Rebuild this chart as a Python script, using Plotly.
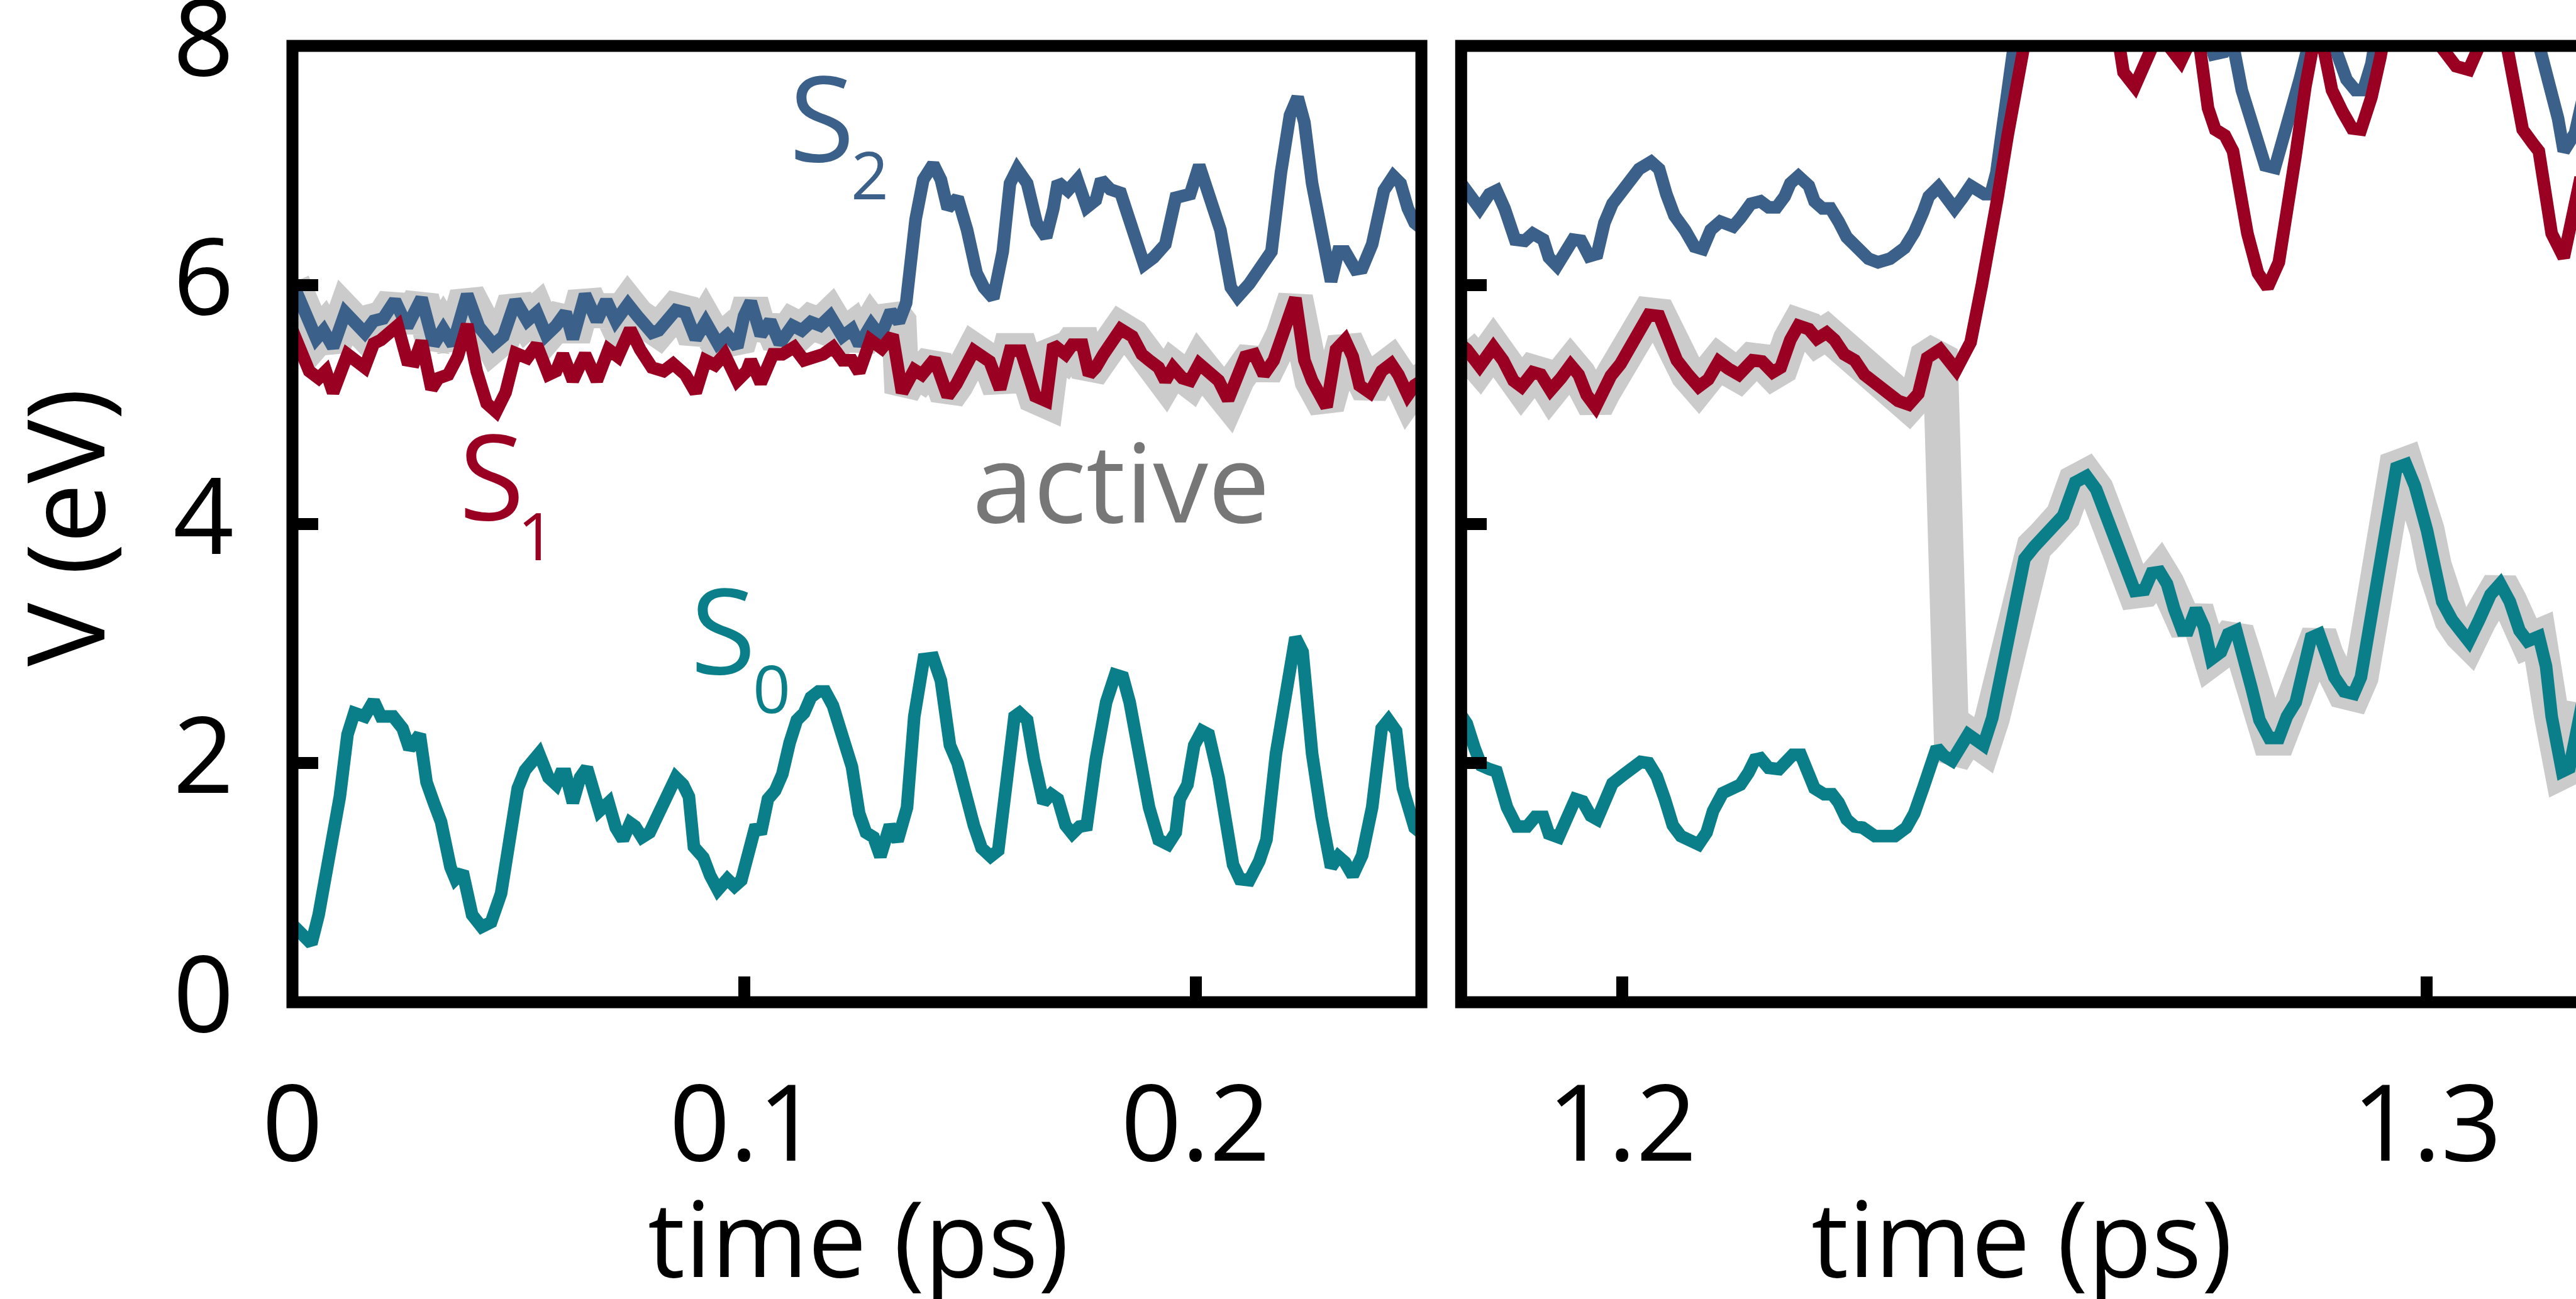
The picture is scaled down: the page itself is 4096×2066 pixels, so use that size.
import plotly.graph_objects as go

# ---------------- data (time in ps, energy in eV) ----------------
# left window
t_s2_left = [0.0000,0.0053,0.0069,0.0090,0.0117,0.0160,0.0180,0.0201,0.0227,0.0254,0.0286,0.0313,0.0334,0.0355,
             0.0387,0.0413,0.0445,0.0467,0.0494,0.0520,0.0541,0.0562,0.0584,0.0605,0.0621,0.0648,0.0674,0.0695,
             0.0716,0.0743,0.0764,0.0796,0.0811,0.0849,0.0870,0.0893,0.0915,0.0942,0.0963,0.0985,0.1000,0.1015,
             0.1037,0.1058,0.1079,0.1107,0.1128,0.1148,0.1169,0.1191,0.1218,0.1239,0.1255,0.1282,0.1302,0.1325,
             0.1343,0.1359,0.1380,0.1397,0.1419,0.1436,0.1451,0.1473,0.1494,0.1515,0.1531,0.1552,0.1573,0.1589,
             0.1605,0.1627,0.1648,0.1669,0.1685,0.1695,0.1717,0.1738,0.1759,0.1779,0.1791,0.1811,0.1834,0.1854,
             0.1886,0.1907,0.1933,0.1956,0.1988,0.2008,0.2025,0.2055,0.2078,0.2093,0.2119,0.2151,0.2168,0.2189,
             0.2209,0.2226,0.2241,0.2258,0.2279,0.2300,0.2316,0.2331,0.2354,0.2369,0.2391,0.2417,0.2438,0.2454,
             0.2470,0.2485,0.2508]
v_s2_left = [6.02,5.55,5.62,5.48,5.77,5.60,5.70,5.72,5.87,5.65,5.89,5.50,5.63,5.50,
             5.92,5.65,5.50,5.57,5.87,5.70,5.77,5.58,5.66,5.77,5.55,5.92,5.70,5.87,
             5.70,5.84,5.74,5.60,5.62,5.79,5.77,5.55,5.69,5.51,5.58,5.48,5.74,5.86,
             5.58,5.70,5.51,5.66,5.62,5.69,5.66,5.74,5.57,5.63,5.50,5.67,5.57,5.78,
             5.69,5.85,6.55,6.88,7.01,6.88,6.64,6.73,6.46,6.10,5.98,5.89,6.28,6.85,
             6.97,6.85,6.52,6.40,6.64,6.86,6.79,6.88,6.65,6.71,6.88,6.80,6.77,6.55,
             6.17,6.23,6.34,6.73,6.76,7.00,6.79,6.46,5.98,5.90,6.01,6.16,6.28,6.94,
             7.42,7.57,7.36,6.85,6.43,6.03,6.28,6.28,6.13,6.14,6.34,6.79,6.91,6.85,
             6.64,6.52,6.45]

t_s1_left = [0.0000,0.0037,0.0058,0.0074,0.0090,0.0111,0.0122,0.0160,0.0180,0.0196,0.0212,0.0233,0.0254,0.0270,
             0.0286,0.0308,0.0323,0.0345,0.0366,0.0387,0.0408,0.0430,0.0451,0.0472,0.0494,0.0520,0.0541,0.0567,
             0.0584,0.0599,0.0621,0.0648,0.0674,0.0700,0.0721,0.0748,0.0770,0.0796,0.0822,0.0843,0.0870,0.0893,
             0.0915,0.0936,0.0957,0.0985,0.1006,0.1015,0.1037,0.1064,0.1085,0.1111,0.1133,0.1154,0.1175,0.1197,
             0.1218,0.1239,0.1255,0.1280,0.1305,0.1329,0.1350,0.1377,0.1394,0.1422,0.1451,0.1470,0.1509,0.1544,
             0.1567,0.1589,0.1613,0.1645,0.1669,0.1685,0.1712,0.1727,0.1749,0.1764,0.1779,0.1796,0.1811,0.1834,
             0.1860,0.1881,0.1897,0.1918,0.1933,0.1950,0.1971,0.1988,0.2008,0.2029,0.2051,0.2072,0.2093,0.2110,
             0.2130,0.2151,0.2173,0.2194,0.2221,0.2241,0.2258,0.2290,0.2311,0.2331,0.2348,0.2363,0.2386,0.2412,
             0.2433,0.2449,0.2470,0.2485,0.2522]
v_s1_left = [5.62,5.28,5.22,5.28,5.10,5.28,5.42,5.31,5.51,5.54,5.59,5.66,5.37,5.36,
             5.53,5.13,5.22,5.25,5.40,5.67,5.28,5.01,4.94,5.10,5.43,5.39,5.50,5.25,
             5.28,5.42,5.20,5.42,5.20,5.46,5.40,5.63,5.46,5.31,5.28,5.34,5.25,5.10,
             5.37,5.33,5.42,5.20,5.28,5.37,5.18,5.42,5.42,5.48,5.37,5.40,5.42,5.48,
             5.37,5.37,5.27,5.54,5.47,5.58,5.10,5.29,5.25,5.38,5.07,5.17,5.45,5.36,
             5.13,5.45,5.45,5.07,5.03,5.50,5.42,5.50,5.50,5.25,5.31,5.42,5.50,5.63,
             5.57,5.42,5.37,5.31,5.20,5.31,5.22,5.20,5.34,5.27,5.20,5.04,5.22,5.40,
             5.42,5.25,5.37,5.58,5.89,5.37,5.20,4.98,5.46,5.54,5.40,5.16,5.10,5.28,
             5.34,5.25,5.08,5.16,5.25]

t_s0_left = [0.0000,0.0042,0.0058,0.0074,0.0090,0.0105,0.0122,0.0137,0.0160,0.0180,0.0196,0.0223,0.0244,0.0259,
             0.0282,0.0297,0.0313,0.0329,0.0350,0.0361,0.0377,0.0398,0.0419,0.0440,0.0462,0.0483,0.0499,0.0515,
             0.0530,0.0546,0.0567,0.0584,0.0594,0.0605,0.0621,0.0637,0.0652,0.0669,0.0680,0.0700,0.0716,0.0732,
             0.0748,0.0759,0.0774,0.0791,0.0811,0.0834,0.0849,0.0865,0.0878,0.0889,0.0910,0.0925,0.0942,0.0963,
             0.0979,0.0994,0.1011,0.1026,0.1037,0.1053,0.1069,0.1085,0.1101,0.1117,0.1133,0.1148,0.1165,0.1180,
             0.1197,0.1218,0.1239,0.1255,0.1270,0.1287,0.1302,0.1323,0.1340,0.1361,0.1377,0.1398,0.1419,0.1436,
             0.1456,0.1473,0.1488,0.1509,0.1526,0.1546,0.1563,0.1578,0.1599,0.1610,0.1627,0.1642,0.1663,0.1680,
             0.1695,0.1712,0.1727,0.1743,0.1759,0.1779,0.1802,0.1822,0.1839,0.1854,0.1875,0.1897,0.1918,0.1939,
             0.1956,0.1965,0.1982,0.1997,0.2014,0.2029,0.2051,0.2067,0.2083,0.2098,0.2119,0.2141,0.2157,0.2178,
             0.2200,0.2221,0.2237,0.2258,0.2279,0.2300,0.2316,0.2331,0.2348,0.2369,0.2391,0.2412,0.2427,0.2444,
             0.2459,0.2470,0.2485,0.2505]
v_s0_left = [0.65,0.49,0.73,1.06,1.27,1.72,2.24,2.42,2.39,2.52,2.39,2.39,2.29,2.12,
             2.24,1.84,1.67,1.51,1.13,1.03,1.09,0.73,0.63,0.67,0.91,1.39,1.79,1.94,
             2.03,2.08,1.88,1.82,1.91,1.91,1.67,1.88,1.96,1.72,1.60,1.67,1.46,1.36,
             1.50,1.47,1.38,1.42,1.58,1.79,1.88,1.82,1.72,1.30,1.21,1.06,0.94,1.03,
             0.97,1.02,1.33,1.48,1.41,1.70,1.77,1.91,2.17,2.36,2.42,2.55,2.60,2.60,
             2.48,2.21,1.97,1.58,1.42,1.38,1.22,1.48,1.35,1.63,2.39,2.87,2.88,2.69,
             2.15,2.00,1.75,1.48,1.29,1.22,1.27,1.70,2.39,2.42,2.36,2.03,1.67,1.74,
             1.70,1.48,1.41,1.47,1.48,2.03,2.51,2.74,2.72,2.51,2.03,1.63,1.36,1.32,
             1.42,1.70,1.82,2.15,2.27,2.24,1.88,1.48,1.15,1.03,1.02,1.18,1.36,2.08,
             2.63,3.05,2.93,2.08,1.55,1.13,1.22,1.17,1.06,1.23,1.63,2.29,2.36,2.27,
             1.79,1.63,1.46,1.40]

# right window
t_s2_right = [1.1800,1.1807,1.1823,1.1835,1.1844,1.1854,1.1867,1.1879,1.1889,1.1902,1.1909,1.1919,1.1929,1.1939,
              1.1949,1.1959,1.1969,1.1978,1.1988,1.1998,1.2011,1.2021,1.2036,1.2046,1.2055,1.2065,1.2078,1.2090,
              1.2100,1.2110,1.2122,1.2138,1.2147,1.2160,1.2172,1.2182,1.2192,1.2202,1.2209,1.2219,1.2232,1.2239,
              1.2249,1.2259,1.2269,1.2279,1.2291,1.2306,1.2318,1.2333,1.2351,1.2363,1.2374,1.2381,1.2393,1.2413,
              1.2423,1.2433,1.2450,1.2458,1.2465,1.2475,1.2485,1.2498,1.2560,1.2640,1.2718,1.2735,1.2748,1.2758,
              1.2770,1.2780,1.2790,1.2799,1.2811,1.2820,1.2833,1.2842,1.2851,1.2864,1.2885,1.2900,1.2911,1.2921,
              1.2931,1.2942,1.3000,1.3080,1.3128,1.3143,1.3152,1.3163,1.3170,1.3184,1.3195]
v_s2_right = [6.85,6.79,6.64,6.76,6.79,6.64,6.38,6.37,6.43,6.38,6.23,6.16,6.28,6.38,
              6.37,6.24,6.26,6.52,6.68,6.76,6.86,6.97,7.03,6.97,6.76,6.58,6.46,6.32,
              6.30,6.46,6.53,6.49,6.56,6.68,6.70,6.65,6.65,6.74,6.85,6.91,6.83,6.70,
              6.64,6.64,6.53,6.40,6.32,6.22,6.19,6.22,6.31,6.44,6.61,6.74,6.82,6.64,
              6.73,6.83,6.76,6.76,6.94,7.42,7.96,8.55,8.90,8.80,8.30,7.93,7.95,8.05,
              7.63,7.39,7.18,7.00,6.98,7.18,7.45,7.72,7.96,8.25,8.00,7.72,7.63,7.63,
              7.85,8.30,8.70,8.60,8.30,7.93,7.69,7.39,7.12,7.27,7.60]

t_s1_right = [1.1800,1.1807,1.1823,1.1840,1.1852,1.1865,1.1875,1.1889,1.1899,1.1911,1.1924,1.1936,1.1946,1.1956,
              1.1967,1.1976,1.1986,1.1998,1.2011,1.2023,1.2033,1.2046,1.2058,1.2068,1.2082,1.2095,1.2107,1.2120,
              1.2132,1.2145,1.2162,1.2174,1.2187,1.2197,1.2209,1.2219,1.2232,1.2242,1.2254,1.2264,1.2276,1.2289,
              1.2301,1.2314,1.2328,1.2343,1.2356,1.2368,1.2379,1.2395,1.2415,1.2433,1.2447,1.2458,1.2467,1.2479,
              1.2489,1.2498,1.2514,1.2560,1.2611,1.2623,1.2637,1.2648,1.2658,1.2669,1.2679,1.2694,1.2703,1.2711,
              1.2718,1.2728,1.2737,1.2749,1.2759,1.2768,1.2777,1.2790,1.2802,1.2816,1.2828,1.2837,1.2849,1.2856,
              1.2864,1.2871,1.2882,1.2895,1.2907,1.2918,1.2931,1.2942,1.2953,1.2981,1.3012,1.3019,1.3036,1.3052,
              1.3065,1.3078,1.3093,1.3100,1.3110,1.3119,1.3132,1.3139,1.3146,1.3155,1.3170,1.3181,1.3191]
v_s1_right = [5.50,5.46,5.32,5.48,5.37,5.20,5.15,5.27,5.25,5.12,5.22,5.33,5.25,5.08,
              4.98,5.10,5.24,5.34,5.50,5.66,5.75,5.74,5.54,5.37,5.25,5.15,5.21,5.36,
              5.30,5.25,5.37,5.36,5.27,5.31,5.54,5.66,5.63,5.55,5.60,5.54,5.42,5.37,
              5.25,5.18,5.09,5.03,5.00,5.09,5.39,5.46,5.29,5.52,6.00,6.35,6.75,7.25,
              7.69,7.95,8.50,8.75,8.30,7.78,7.66,7.81,8.00,8.15,8.00,7.87,8.00,8.08,
              7.98,7.48,7.30,7.25,7.12,6.76,6.43,6.10,5.98,6.19,6.64,7.09,7.66,8.00,
              8.20,8.00,7.63,7.45,7.31,7.30,7.57,7.90,8.30,8.60,8.20,7.98,7.83,7.80,
              8.00,8.40,8.20,7.98,7.60,7.30,7.18,7.12,6.82,6.43,6.23,6.55,6.90]

t_s0_right = [1.1800,1.1807,1.1817,1.1825,1.1835,1.1844,1.1857,1.1869,1.1882,1.1892,1.1902,1.1909,1.1921,1.1932,
              1.1942,1.1951,1.1961,1.1969,1.1978,1.1988,1.2003,1.2013,1.2023,1.2033,1.2043,1.2053,1.2063,1.2073,
              1.2082,1.2095,1.2105,1.2113,1.2125,1.2138,1.2147,1.2157,1.2165,1.2172,1.2182,1.2195,1.2205,1.2212,
              1.2222,1.2230,1.2239,1.2251,1.2261,1.2269,1.2279,1.2289,1.2299,1.2314,1.2326,1.2339,1.2353,1.2363,
              1.2374,1.2383,1.2391,1.2400,1.2410,1.2430,1.2449,1.2460,1.2470,1.2480,1.2490,1.2500,1.2512,1.2524,
              1.2536,1.2548,1.2563,1.2577,1.2589,1.2603,1.2615,1.2625,1.2637,1.2649,1.2658,1.2668,1.2677,1.2686,
              1.2696,1.2703,1.2713,1.2723,1.2732,1.2744,1.2753,1.2763,1.2773,1.2782,1.2792,1.2804,1.2816,1.2826,
              1.2837,1.2849,1.2856,1.2866,1.2875,1.2885,1.2897,1.2909,1.2918,1.2931,1.2942,1.2952,1.2962,1.2974,
              1.2985,1.3000,1.3009,1.3019,1.3031,1.3043,1.3052,1.3065,1.3079,1.3091,1.3103,1.3115,1.3125,1.3139,
              1.3148,1.3155,1.3168,1.3177,1.3184,1.3193]
v_s0_right = [2.40,2.33,2.12,1.98,1.95,1.93,1.63,1.47,1.47,1.55,1.55,1.41,1.38,1.55,
              1.70,1.68,1.56,1.53,1.68,1.83,1.91,1.96,2.01,2.00,1.89,1.70,1.48,1.39,
              1.35,1.32,1.42,1.60,1.75,1.79,1.82,1.92,2.03,2.04,1.96,1.95,2.01,2.07,
              2.07,1.96,1.79,1.74,1.74,1.67,1.53,1.47,1.46,1.39,1.38,1.39,1.46,1.58,
              1.79,1.99,2.13,2.06,2.02,2.24,2.15,2.38,2.69,3.05,3.42,3.71,3.81,3.89,
              3.98,4.07,4.35,4.40,4.29,4.04,3.80,3.59,3.44,3.45,3.59,3.60,3.50,3.29,
              3.11,3.11,3.29,3.14,2.87,2.93,3.08,3.11,2.90,2.63,2.36,2.21,2.21,2.39,
              2.51,2.81,3.05,3.08,2.90,2.72,2.60,2.58,2.72,3.23,3.71,4.04,4.47,4.50,
              4.32,3.95,3.65,3.35,3.20,3.08,3.02,3.20,3.41,3.50,3.35,3.11,3.02,3.06,
              2.81,2.39,1.93,1.96,2.17,2.50]

# surface hops of the active state (ps)
hop_left = 0.1346    # S2 -> S1
hop_right = 1.2398   # S1 -> S0

x_ticks_left = [0, 0.1, 0.2]
x_labels_left = ["0", "0.1", "0.2"]
x_ticks_right = [1.2, 1.3]
x_labels_right = ["1.2", "1.3"]
y_ticks = [0, 2, 4, 6, 8]
y_labels = ["0", "2", "4", "6", "8"]

# ---------------- styling / geometry ----------------
W, H = 4096, 2066
SX, SY = W / 4113, H / 2075
BLUE = "#3B6089"
RED = "#990022"
TEAL = "#0B7F89"
GRAY = "#CBCBCB"
TXTGRAY = "#777777"
FONT = "Open Sans"
LW = 20
GW = 56
FRAME = 19

L = 467 * SX
T = 73 * SY
B = H - 1601 * SY
PW = W - L
PH = H - T - B
dom_left = [0, (2269.5 * SX - L) / PW]
dom_right = [(2333 * SX - L) / PW, 1]
x2_min = 1.18
x2_max = 1.2 + (W - 2590 * SX) / (12850 * SX)


def px(xr):
    return (xr * SX - L) / PW


def py(yr):
    return (H - B - yr * SY) / PH


def active(t_a, v_a, t_b, v_b, hop):
    tt = [t for t in t_a if t <= hop] + [t for t in t_b if t > hop]
    vv = [v for t, v in zip(t_a, v_a) if t <= hop] + [v for t, v in zip(t_b, v_b) if t > hop]
    return tt, vv


fig = go.Figure()

ga_t, ga_v = active(t_s2_left, v_s2_left, t_s1_left, v_s1_left, hop_left)
gb_t, gb_v = active(t_s1_right, v_s1_right, t_s0_right, v_s0_right, hop_right)

for xa, ya, gt, gv, series in [
    ("x", "y", ga_t, ga_v, [(t_s0_left, v_s0_left, TEAL), (t_s2_left, v_s2_left, BLUE), (t_s1_left, v_s1_left, RED)]),
    ("x2", "y2", gb_t, gb_v, [(t_s0_right, v_s0_right, TEAL), (t_s2_right, v_s2_right, BLUE), (t_s1_right, v_s1_right, RED)]),
]:
    fig.add_trace(go.Scatter(x=gt, y=gv, mode="lines", xaxis=xa, yaxis=ya,
                             line=dict(color=GRAY, width=GW), showlegend=False, hoverinfo="skip"))
    for tt, vv, col in series:
        fig.add_trace(go.Scatter(x=tt, y=vv, mode="lines", xaxis=xa, yaxis=ya,
                                 line=dict(color=col, width=LW), showlegend=False))

tickfont = dict(family=FONT, size=169, color="black")
common_x = dict(showgrid=False, zeroline=False, showline=False, linewidth=1, ticks="inside",
                ticklen=41, tickwidth=FRAME, tickcolor="black", tickfont=tickfont,
                ticklabelstandoff=82, ticklabeloverflow="allow", automargin=False)
common_y = dict(showgrid=False, zeroline=False, showline=False, linewidth=1, ticks="inside",
                ticklen=41, tickwidth=FRAME, tickcolor="black", tickfont=tickfont,
                range=[0, 8], tickmode="array", tickvals=y_ticks, ticktext=y_labels,
                ticklabeloverflow="allow", automargin=False)

fig.update_layout(
    width=W, height=H,
    margin=dict(l=L, r=0, t=T, b=B, pad=0, autoexpand=False),
    paper_bgcolor="white", plot_bgcolor="white",
    font=dict(family=FONT, color="black"),
    xaxis=dict(domain=dom_left, range=[0, 0.25], tickmode="array", tickvals=x_ticks_left,
               ticktext=x_labels_left, anchor="y", **common_x),
    xaxis2=dict(domain=dom_right, range=[x2_min, x2_max], tickmode="array", tickvals=x_ticks_right,
                ticktext=x_labels_right, anchor="y2", **common_x),
    yaxis=dict(domain=[0, 1], anchor="x", ticklabelstandoff=92, ticklabelshift=-12, **common_y),
    yaxis2=dict(domain=[0, 1], anchor="x2", showticklabels=False, **common_y),
)

# frames
xl0, xl1 = dom_left
xr0 = dom_right[0]
fig.add_shape(type="rect", xref="paper", yref="paper", x0=xl0, x1=xl1, y0=0, y1=1,
              line=dict(color="black", width=FRAME), layer="above")
fig.add_shape(type="path", xref="paper", yref="paper",
              path=f"M 1.05,1 L {xr0},1 L {xr0},0 L 1.05,0",
              line=dict(color="black", width=FRAME), layer="above")

# state labels
def lab(text, t, v, size, color, xref="x", yref="y"):
    fig.add_annotation(text=text, x=t, y=v, xref=xref, yref=yref, showarrow=False,
                       xanchor="center", yanchor="middle",
                       font=dict(family=FONT, size=size, color=color))

lab("S", 0.1172, 7.42, 189, BLUE)
lab("2", 0.1279, 6.93, 105, BLUE)
lab("S", 0.0442, 4.42, 189, RED)
lab("1", 0.0541, 3.91, 105, RED)
lab("S", 0.0954, 3.13, 189, TEAL)
lab("0", 0.1061, 2.63, 105, TEAL)
lab("active", 0.1835, 4.37, 175, TXTGRAY)

# axis titles
fig.add_annotation(text="V (eV)", x=px(101), y=py(842), xref="paper", yref="paper", showarrow=False,
                   textangle=-90, xanchor="center", yanchor="middle",
                   font=dict(family=FONT, size=170, color="black"))
for xc in (1371, 3228):
    fig.add_annotation(text="time (ps)", x=px(xc), y=py(1976), xref="paper", yref="paper",
                       showarrow=False, xanchor="center", yanchor="middle",
                       font=dict(family=FONT, size=166, color="black"))

fig.write_html("out.html")
